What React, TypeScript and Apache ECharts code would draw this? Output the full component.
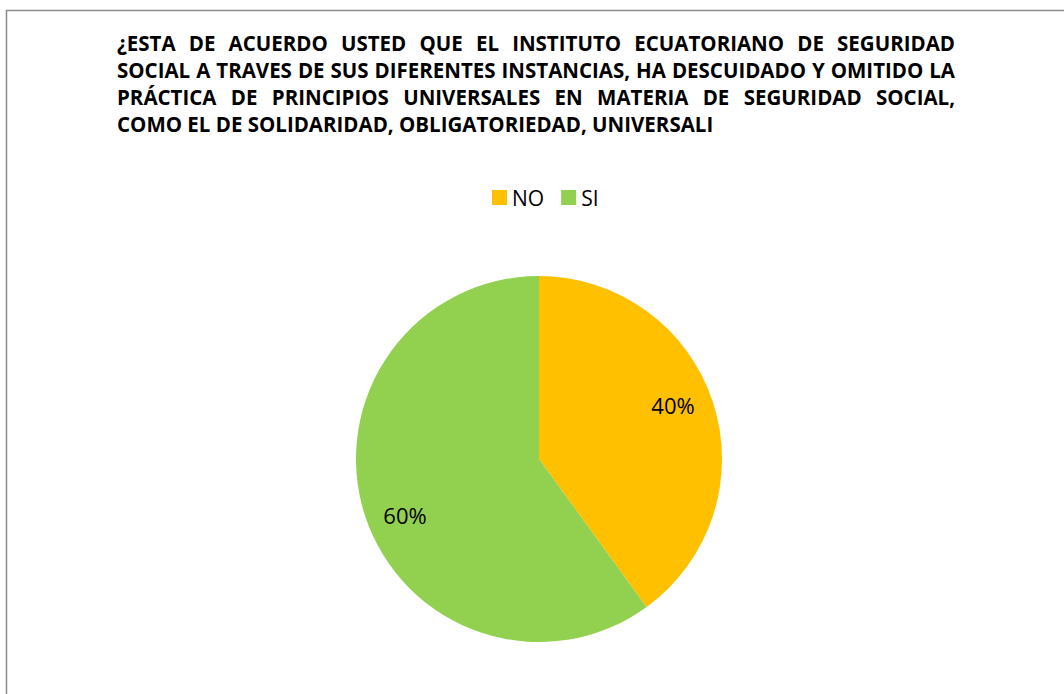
import React, { useEffect, useRef } from "react";
import * as echarts from "echarts";

const TITLE_LINES = [
  "¿ESTA DE ACUERDO USTED QUE EL INSTITUTO ECUATORIANO DE SEGURIDAD",
  "SOCIAL A TRAVES DE SUS DIFERENTES INSTANCIAS, HA DESCUIDADO Y OMITIDO LA",
  "PRÁCTICA DE PRINCIPIOS UNIVERSALES EN MATERIA DE SEGURIDAD SOCIAL,",
  "COMO EL DE SOLIDARIDAD, OBLIGATORIEDAD, UNIVERSALI",
];
const CATEGORIES = ["NO", "SI"];
const VALUES = [40, 60];
const COLORS = ["#FFC000", "#92D050"];
const LABEL_OFFSETS = [[-2, -10], [2, 12]];

const FONT = "'Open Sans', 'Noto Sans', sans-serif";
const TITLE_LEFT = 117;
const TITLE_RIGHT = 955;
const LAST_LINE_RIGHT = 713;
const TITLE_BASE = 48;
const TITLE_STEP = 27;
const TITLE_SIZE = 20.5;

function measure(text: string, size: number): number {
  const c = document.createElement("canvas");
  const ctx = c.getContext("2d")!;
  ctx.font = `bold ${size}px ${FONT}`;
  return ctx.measureText(text).width;
}

function buildTitle(): any[] {
  const width = TITLE_RIGHT - TITLE_LEFT;
  const lastNat = measure(TITLE_LINES[TITLE_LINES.length - 1], TITLE_SIZE);
  const w2 = TITLE_LINES[1].split(" ");
  const w2Nat = w2.reduce((a, w) => a + measure(w, TITLE_SIZE), 0);
  const sx = Math.min(1, (width - 3.5 * (w2.length - 1)) / w2Nat);
  const sxLast = Math.min(1.05, (LAST_LINE_RIGHT - TITLE_LEFT) / lastNat);
  const els: any[] = [];
  TITLE_LINES.forEach((line, i) => {
    const y = TITLE_BASE + i * TITLE_STEP;
    const style = {
      fill: "#000",
      font: `bold ${TITLE_SIZE}px ${FONT}`,
      textAlign: "left",
      textVerticalAlign: "bottom",
    };
    if (i === TITLE_LINES.length - 1) {
      els.push({ type: "text", x: TITLE_LEFT, y: y + 5, scaleX: sxLast, style: { ...style, text: line } });
      return;
    }
    const words = line.split(" ");
    const ws = words.map((w) => measure(w, TITLE_SIZE) * sx);
    const total = ws.reduce((a, b) => a + b, 0);
    const gap = (width - total) / (words.length - 1);
    let x = TITLE_LEFT;
    words.forEach((w, k) => {
      els.push({ type: "text", x, y: y + 5, scaleX: sx, style: { ...style, text: w } });
      x += ws[k] + gap;
    });
  });
  return els;
}

export default function App() {
  const ref = useRef<HTMLDivElement>(null);
  useEffect(() => {
    document.body.style.margin = "0";
    const chart = echarts.init(ref.current!, null, { renderer: "svg" });
    const data = CATEGORIES.map((name, i) => ({
      name,
      value: VALUES[i],
      itemStyle: { color: COLORS[i] },
    }));
    chart.setOption({
      animation: false,
      backgroundColor: "#fff",
      legend: {
        data: CATEGORIES,
        left: 487,
        top: 182,
        icon: "rect",
        itemWidth: 15,
        itemHeight: 15,
        itemGap: 17,
        textStyle: { fontSize: 21, color: "#000", fontFamily: FONT },
      },
      graphic: [
        {
          type: "rect",
          shape: { x: 6.5, y: 10.5, width: 1200, height: 900 },
          style: { fill: "none", stroke: "#8a8a8a", lineWidth: 1.5 },
          silent: true,
        },
        ...buildTitle(),
      ],
      series: [
        {
          type: "pie",
          center: [539, 459],
          radius: [0, 183],
          startAngle: 90,
          clockwise: true,
          silent: true,
          label: { show: false },
          labelLine: { show: false },
          data,
        },
        {
          type: "pie",
          center: [539, 459],
          radius: [97, 183],
          startAngle: 90,
          clockwise: true,
          silent: true,
          itemStyle: { color: "rgba(0,0,0,0)" },
          label: {
            show: true,
            position: "inside",
            formatter: "{d}%",
            fontSize: 22,
            color: "#000",
            fontFamily: FONT,
          },
          labelLine: { show: false },
          data: CATEGORIES.map((name, i) => ({
            name,
            value: VALUES[i],
            itemStyle: { color: "rgba(0,0,0,0)" },
            label: { offset: LABEL_OFFSETS[i] },
          })),
        },
      ],
    });
    return () => chart.dispose();
  }, []);
  return <div ref={ref} style={{ width: 1064, height: 694 }} />;
}
